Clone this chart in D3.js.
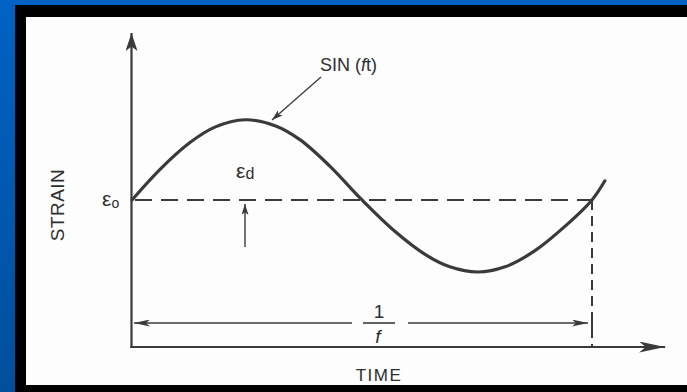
<!DOCTYPE html>
<html>
<head>
<meta charset="utf-8">
<script src="https://cdn.jsdelivr.net/npm/d3@7"></script>
<style>
  html, body { margin: 0; padding: 0; background: #0058b0; }
  svg { display: block; }
  text { font-family: "Liberation Sans", Arial, Helvetica, sans-serif; fill: #2e2e2e; }
</style>
</head>
<body>
<svg id="chart" width="687" height="392"></svg>
<script>
// One cycle of strain against time (t in units of the period 1/f)
const timeT  = [0, 0.06, 0.126, 0.18, 0.246, 0.311, 0.365, 0.43, 0.5, 0.572, 0.637, 0.691, 0.752, 0.811, 0.876, 0.941, 1.0, 1.028];
const strain = [2.0, 2.41, 2.78, 2.99, 3.09, 3.01, 2.82, 2.46, 2.0, 1.57, 1.26, 1.09, 1.02, 1.09, 1.31, 1.64, 2.0, 2.26];
const meanStrain = 2.0;     // ε0
const period = 1.0;          // 1/f
const timeMax = 1.159;       // end of time axis
const strainMax = 4.27;      // top of strain axis

const svg = d3.select("#chart");
const W = 687, H = 392;
const ink = "#3a3a3a";

// Background: blue gradient, black frame, white panel
const defs = svg.append("defs");
const grad = defs.append("linearGradient").attr("id", "bg").attr("x1", 0).attr("y1", 0).attr("x2", 0).attr("y2", 1);
grad.append("stop").attr("offset", 0).attr("stop-color", "#0062c4");
grad.append("stop").attr("offset", 1).attr("stop-color", "#004f9c");
svg.append("rect").attr("width", W).attr("height", H).attr("fill", "url(#bg)");
svg.append("rect").attr("x", 15).attr("y", 5).attr("width", W - 15).attr("height", H - 5).attr("fill", "#000");
svg.append("rect").attr("x", 26).attr("y", 17).attr("width", W - 26).attr("height", 368).attr("fill", "#fdfdfd");

// Arrowhead markers
function marker(id, len, wid) {
  defs.append("marker")
    .attr("id", id)
    .attr("viewBox", `0 0 ${len} ${wid}`)
    .attr("refX", len).attr("refY", wid / 2)
    .attr("markerWidth", len).attr("markerHeight", wid)
    .attr("markerUnits", "userSpaceOnUse")
    .attr("orient", "auto-start-reverse")
    .append("path")
    .attr("d", `M0,0 L${len},${wid / 2} L0,${wid} L${len * 0.25},${wid / 2} Z`)
    .attr("fill", ink);
}
marker("axisArrowY", 18, 12);
marker("axisArrowX", 26, 11);
marker("dimArrow", 16, 7);
marker("smallArrow", 11, 7);

// Scales
const x = d3.scaleLinear().domain([0, period]).range([132, 592]);
const y = d3.scaleLinear().domain([0, strainMax]).range([347, 33]);

// Axes
svg.append("line")
  .attr("x1", x(0) - 0.5).attr("y1", y(0) + 1).attr("x2", x(0) - 0.5).attr("y2", y(strainMax))
  .attr("stroke", ink).attr("stroke-width", 2.2)
  .attr("marker-end", "url(#axisArrowY)");
svg.append("line")
  .attr("x1", x(0) - 1.6).attr("y1", y(0)).attr("x2", x(timeMax)).attr("y2", y(0))
  .attr("stroke", ink).attr("stroke-width", 2.2)
  .attr("marker-end", "url(#axisArrowX)");

// Mean strain (dashed) and end of period (dashed)
svg.append("line")
  .attr("x1", x(0)).attr("y1", y(meanStrain)).attr("x2", x(period)).attr("y2", y(meanStrain))
  .attr("stroke", ink).attr("stroke-width", 2).attr("stroke-dasharray", "17,9")
  .attr("stroke-dashoffset", -3);
svg.append("line")
  .attr("x1", x(period)).attr("y1", y(meanStrain)).attr("x2", x(period)).attr("y2", y(0))
  .attr("stroke", ink).attr("stroke-width", 2).attr("stroke-dasharray", "10,6");

// Strain curve
const pts = timeT.map((t, i) => [t, strain[i]]);
const line = d3.line().x(d => x(d[0])).y(d => y(d[1])).curve(d3.curveCatmullRom.alpha(0.5));
svg.append("path")
  .attr("d", line(pts))
  .attr("fill", "none").attr("stroke", ink).attr("stroke-width", 3.2)
  .attr("stroke-linecap", "round");

// Period dimension line: 1/f
const dimY = 323;
svg.append("line")
  .attr("x1", 352).attr("y1", dimY).attr("x2", x(0) + 2).attr("y2", dimY)
  .attr("stroke", ink).attr("stroke-width", 1.4).attr("marker-end", "url(#dimArrow)");
svg.append("line")
  .attr("x1", 408).attr("y1", dimY).attr("x2", x(period) - 4).attr("y2", dimY)
  .attr("stroke", ink).attr("stroke-width", 1.4).attr("marker-end", "url(#dimArrow)");
svg.append("line")
  .attr("x1", x(period)).attr("y1", dimY - 7).attr("x2", x(period)).attr("y2", dimY + 6)
  .attr("stroke", ink).attr("stroke-width", 2);
svg.append("line")
  .attr("x1", 363).attr("y1", dimY).attr("x2", 395).attr("y2", dimY)
  .attr("stroke", ink).attr("stroke-width", 1.6);
svg.append("text").attr("x", 379).attr("y", 318).attr("text-anchor", "middle")
  .attr("font-size", 19).text("1");
svg.append("text").attr("x", 378).attr("y", 343).attr("text-anchor", "middle")
  .attr("font-size", 19).attr("font-style", "italic").text("f");

// Axis titles
svg.append("text").attr("x", 379).attr("y", 381).attr("text-anchor", "middle")
  .attr("font-size", 17).attr("letter-spacing", 1.5).text("TIME");
svg.append("text")
  .attr("transform", "translate(64,205) rotate(-90)")
  .attr("text-anchor", "middle").attr("font-size", 19).attr("letter-spacing", 0.5).text("STRAIN");

// ε0 label
const e0 = svg.append("text").attr("x", 102).attr("y", y(meanStrain) + 6).attr("font-size", 21);
e0.append("tspan").text("ε");
e0.append("tspan").attr("font-size", 14).attr("dy", 2).text("o");

// εd label with arrow to the mean line
const ed = svg.append("text").attr("x", 236).attr("y", 178).attr("font-size", 21);
ed.append("tspan").text("ε");
ed.append("tspan").attr("font-size", 16).attr("dy", 1).text("d");
svg.append("line")
  .attr("x1", 245).attr("y1", 247).attr("x2", 245).attr("y2", y(meanStrain) + 4)
  .attr("stroke", ink).attr("stroke-width", 1.4).attr("marker-end", "url(#smallArrow)");

// SIN (ft) callout
const sinLbl = svg.append("text").attr("x", 320).attr("y", 71).attr("font-size", 18);
sinLbl.append("tspan").text("SIN (");
sinLbl.append("tspan").attr("font-style", "italic").text("f");
sinLbl.append("tspan").text("t)");
svg.append("line")
  .attr("x1", 321).attr("y1", 77).attr("x2", 272).attr("y2", 120)
  .attr("stroke", ink).attr("stroke-width", 1.3).attr("marker-end", "url(#smallArrow)");
</script>
</body>
</html>
